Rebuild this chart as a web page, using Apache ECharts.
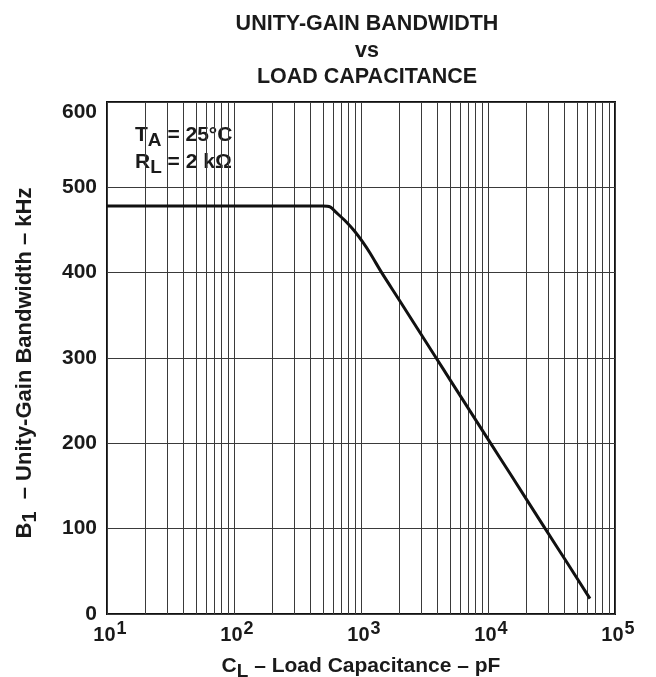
<!DOCTYPE html>
<html>
<head>
<meta charset="utf-8">
<script src="https://cdn.jsdelivr.net/npm/echarts@6/dist/echarts.min.js"></script>
<style>html,body{margin:0;padding:0;background:#fff}#c{width:656px;height:677px}</style>
</head>
<body>
<div id="c"></div>
<script>
// Data (load capacitance pF, unity-gain bandwidth kHz)
const capacitancePF = [10, 100, 300, 500, 570, 644, 760, 898, 1030, 1177, 1455, 2000, 3908, 5000, 10500, 15000, 28200, 42000, 63500];
const bandwidthKHz  = [478, 478, 478, 478, 477, 470, 460, 448, 436, 423, 400, 368, 300, 275, 200, 164, 100, 60, 18];
const xDecadeTicks = [10, 100, 1000, 10000, 100000];
const xMinorGrid = [20,30,40,50,60,70,80,90,200,300,400,500,600,700,800,900,2000,3000,4000,5000,6000,7000,8000,9000,20000,30000,40000,50000,60000,70000,80000,90000];
const yTicks = [0, 100, 200, 300, 400, 500, 600];

const FONT = 'Liberation Sans, Arial, Helvetica, sans-serif';
const INK = '#1a1a1a';
const chart = echarts.init(document.getElementById('c'), null, {renderer: 'canvas'});
const gridColor = '#3a3a3a';

chart.setOption({
  backgroundColor: '#fff',
  animation: false,
  title: {
    text: 'UNITY-GAIN BANDWIDTH\nvs\nLOAD CAPACITANCE',
    left: 362, top: 6, textAlign: 'center',
    textStyle: {fontFamily: FONT, fontWeight: 'bold', fontSize: 21.5, lineHeight: 26.5, color: INK}
  },
  grid: {left: 107, top: 102, width: 508, height: 512, containLabel: false, outerBoundsMode: 'none',
         show: true, borderColor: '#111', borderWidth: 2, backgroundColor: 'transparent'},
  xAxis: {
    type: 'log', logBase: 10, min: xDecadeTicks[0], max: xDecadeTicks[xDecadeTicks.length - 1],
    name: '{n|C}{s|L}{n| – Load Capacitance – pF}',
    nameLocation: 'middle', nameGap: 42,
    nameTextStyle: {
      fontFamily: FONT, fontWeight: 'bold', color: INK,
      rich: {
        n: {fontFamily: FONT, fontWeight: 'bold', fontSize: 21, color: INK, padding: [0, 0, 10, 0]},
        s: {fontFamily: FONT, fontWeight: 'bold', fontSize: 19, color: INK}
      }
    },
    axisLine: {show: false},
    axisTick: {show: false},
    splitLine: {show: true, lineStyle: {color: gridColor, width: 1}},
    axisLabel: {
      margin: 6,
      formatter: function (v) { return '{b|10}{s|' + Math.round(Math.log10(v)) + '}'; },
      rich: {
        b: {fontFamily: FONT, fontWeight: 'bold', fontSize: 20, color: INK, padding: [0, 0, 0, 6]},
        s: {fontFamily: FONT, fontWeight: 'bold', fontSize: 18, color: INK, padding: [0, 0, 12, 1]}
      }
    }
  },
  yAxis: {
    type: 'value', min: yTicks[0], max: yTicks[yTicks.length - 1], interval: 100,
    name: '{n|B}{s|1}{e|  – Unity-Gain Bandwidth – kHz}',
    nameLocation: 'middle', nameRotate: 90, nameGap: 61,
    nameTextStyle: {
      fontFamily: FONT, fontWeight: 'bold', color: INK,
      rich: {
        n: {fontFamily: FONT, fontWeight: 'bold', fontSize: 22, color: INK, padding: [0, 0, 10, 0]},
        e: {fontFamily: FONT, fontWeight: 'bold', fontSize: 22, color: INK, padding: [0, 10, 10, 0]},
        s: {fontFamily: FONT, fontWeight: 'bold', fontSize: 20, color: INK}
      }
    },
    axisLine: {show: false},
    axisTick: {show: false},
    splitLine: {show: true, lineStyle: {color: gridColor, width: 1}},
    axisLabel: {margin: 10, fontFamily: FONT, fontWeight: 'bold', fontSize: 21, color: INK, verticalAlignMaxLabel: 'top'}
  },
  graphic: [{
    type: 'group', left: 109, top: 113, z: 100,
    children: [
      {type: 'rect', shape: {x: 0, y: 0, width: 131, height: 65}, style: {fill: '#fff'}},
      {type: 'text', x: 26, y: 14, style: {
        text: '{n|T}{s|A}{n| = 25°C}\n{n|R}{s|L}{n| = 2 kΩ}',
        fontFamily: FONT, fontWeight: 'bold', fill: INK,
        rich: {
          n: {fontFamily: FONT, fontWeight: 'bold', fontSize: 21, fill: INK, padding: [0, 0, 10, 0], lineHeight: 27},
          s: {fontFamily: FONT, fontWeight: 'bold', fontSize: 19, fill: INK, lineHeight: 27}
        }
      }}
    ]
  }],
  series: [{
    type: 'line',
    data: capacitancePF.map((c, i) => [c, bandwidthKHz[i]]),
    smooth: 0.25,
    showSymbol: false,
    lineStyle: {color: '#111', width: 3},
    z: 5,
    markLine: {
      silent: true, symbol: 'none', animation: false,
      label: {show: false},
      lineStyle: {color: gridColor, width: 1, type: 'solid'},
      data: xMinorGrid.map(v => ({xAxis: v}))
    }
  }]
});
</script>
</body>
</html>
